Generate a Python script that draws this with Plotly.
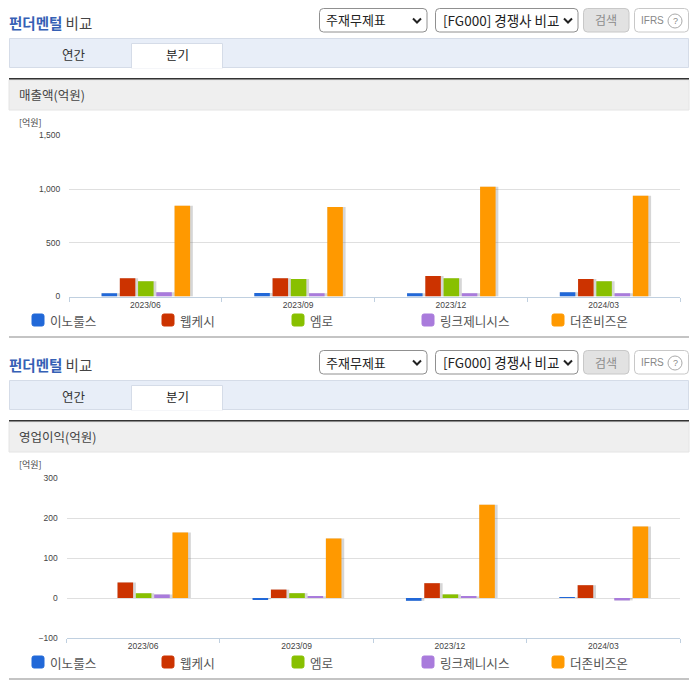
import plotly.graph_objects as go

periods = ["2023/06", "2023/09", "2023/12", "2024/03"]
companies = ["이노룰스", "웹케시", "엠로", "링크제니시스", "더존비즈온"]
colors = ["#2168d8", "#cc3300", "#88c000", "#a97bdc", "#ff9900"]

sales = {
    "이노룰스": [31, 33, 31, 40],
    "웹케시": [171, 171, 190, 162],
    "엠로": [143, 162, 171, 143],
    "링크제니시스": [40, 31, 31, 31],
    "더존비즈온": [845, 835, 1022, 938],
}
profit = {
    "이노룰스": [0, -3, -7, 2],
    "웹케시": [39, 21, 37, 32],
    "엠로": [12, 12, 9, 0],
    "링크제니시스": [9, 4, 4, -6],
    "더존비즈온": [164, 149, 233, 179],
}

W, H = 696, 684
KR = "Noto Sans CJK KR"
LAT = "Liberation Sans"


def px(x):
    return x / W


def py(y):
    return 1 - y / H


fig = go.Figure()
shapes, notes = [], []

STEP, BAR = 0.1195, 0.1015
SHADOW = 0.018


def add_bars(data, xaxis, yaxis):
    for i, name in enumerate(companies):
        off = (i - 2.5) * STEP + (STEP - BAR) / 2 + 0.003
        fig.add_bar(x=periods, y=data[name], name=name, xaxis=xaxis, yaxis=yaxis,
                    width=BAR + SHADOW, offset=off,
                    marker=dict(color="rgba(120,120,120,0.30)", line_width=0),
                    showlegend=False, hoverinfo="skip")
        fig.add_bar(x=periods, y=data[name], name=name, xaxis=xaxis, yaxis=yaxis,
                    width=BAR, offset=off,
                    marker=dict(color=colors[i], line_width=0), showlegend=False)


add_bars(sales, "x", "y")
add_bars(profit, "x2", "y2")


def rect(x0, y0, x1, y1, fill, line=None, lw=1):
    shapes.append(dict(type="rect", xref="paper", yref="paper",
                       x0=px(x0), x1=px(x1), y0=py(y0), y1=py(y1), fillcolor=fill,
                       line=dict(color=line or fill, width=lw if line else 0), layer="below"))


def rrect(x0, y0, x1, y1, fill, line, r=4):
    def X(v):
        return px(v)

    def Y(v):
        return py(v)

    d = (f"M{X(x0+r)},{Y(y0)} L{X(x1-r)},{Y(y0)} Q{X(x1)},{Y(y0)} {X(x1)},{Y(y0+r)} "
         f"L{X(x1)},{Y(y1-r)} Q{X(x1)},{Y(y1)} {X(x1-r)},{Y(y1)} L{X(x0+r)},{Y(y1)} "
         f"Q{X(x0)},{Y(y1)} {X(x0)},{Y(y1-r)} L{X(x0)},{Y(y0+r)} Q{X(x0)},{Y(y0)} {X(x0+r)},{Y(y0)} Z")
    shapes.append(dict(type="path", xref="paper", yref="paper", path=d, fillcolor=fill,
                       line=dict(color=line, width=1), layer="below"))


def chevron(cx, cy):
    d = (f"M{px(cx-4)},{py(cy-2)} L{px(cx)},{py(cy+2)} L{px(cx+4)},{py(cy-2)}")
    shapes.append(dict(type="path", xref="paper", yref="paper", path=d,
                       line=dict(color="#222222", width=2), layer="above"))


def text(x, y, s, size=12, color="#333333", family=KR, anchor="left"):
    notes.append(dict(xref="paper", yref="paper", x=px(x), y=py(y), text=s, showarrow=False,
                      xanchor=anchor, yanchor="middle", align=anchor, borderpad=0, borderwidth=0,
                      font=dict(size=size, color=color, family=family)))


def panel(dy, heading):
    text(9, 22 + dy, '<span style="color:#3560b5"><b>펀더멘털</b></span> 비교', 14.5, "#444444")
    rrect(319.5, 8.5 + dy, 427, 32 + dy, "#ffffff", "#909090")
    text(326, 20 + dy, "주재무제표", 13, "#222222")
    chevron(417, 20.5 + dy)
    rrect(435.5, 8.5 + dy, 578, 32 + dy, "#ffffff", "#909090")
    text(443, 20 + dy, "[FG000] 경쟁사 비교", 13.5, "#222222")
    chevron(568, 20.5 + dy)
    rrect(583.5, 8.5 + dy, 629, 32 + dy, "#e2e2e2", "#c8c8c8")
    text(606, 20 + dy, "검색", 12, "#8c8c8c", anchor="center")
    rrect(634.5, 8.5 + dy, 688.5, 32 + dy, "#ffffff", "#c8c8c8")
    text(641, 20.5 + dy, "IFRS", 10, "#888888", LAT)
    shapes.append(dict(type="circle", xref="paper", yref="paper", x0=px(668), x1=px(682),
                       y0=py(14 + dy), y1=py(28 + dy), line=dict(color="#aaaaaa", width=1)))
    text(675, 21 + dy, "?", 9, "#888888", LAT, "center")
    rect(9.5, 38.5 + dy, 688.5, 67.5 + dy, "#e8eef8", "#d5dce8")
    rect(131.5, 43.5 + dy, 222.5, 68 + dy, "#ffffff", "#d5dce8")
    shapes.append(dict(type="line", xref="paper", yref="paper", x0=px(132), x1=px(222),
                       y0=py(67.5 + dy), y1=py(67.5 + dy), line=dict(color="#ffffff", width=2),
                       layer="below"))
    text(74, 54 + dy, "연간", 12.5, "#333333", anchor="center")
    text(177, 54.5 + dy, "분기", 12.5, "#222222", anchor="center")
    rect(9, 78 + dy, 689, 80 + dy, "#333333")
    rect(9, 80 + dy, 689, 110 + dy, "#efefef", "#e4e4e4")
    text(19, 95 + dy, heading, 12.5, "#444444")
    text(19, 122.5 + dy, "[억원]", 9, "#444444")
    for i, name in enumerate(companies):
        x = 32 + 130 * i
        rrect(x, 314 + dy, x + 12, 326 + dy, colors[i], colors[i], 2)
        text(x + 18, 320 + dy, name, 12.6, "#555555")
    rect(9, 336 + dy, 689, 338 + dy, "#c4c4c4")


panel(0, "매출액(억원)")
panel(342, "영업이익(억원)")


def xaxis(left, domain_anchor):
    return dict(domain=[px(left), px(680)], anchor=domain_anchor, type="category",
                categoryorder="array", categoryarray=periods, range=[-0.5, 3.5], automargin=False,
                tickson="boundaries", ticks="outside", ticklen=4, tickcolor="#c0d0e0",
                showline=True, linecolor="#c0d0e0", linewidth=1, showgrid=False,
                tickfont=dict(size=8.5, color="#444444", family=LAT), fixedrange=True)


def yaxis(top, bottom, rng, dtick, anchor):
    return dict(domain=[py(bottom), py(top)], anchor=anchor, range=rng, dtick=dtick, automargin=False,
                tickformat=",", ticks="outside", ticklen=6, tickcolor="rgba(0,0,0,0)",
                showgrid=True, gridcolor="#dfdfdf", gridwidth=1, showline=False, zeroline=False,
                tickfont=dict(size=8.5, color="#444444", family=LAT), fixedrange=True)


fig.update_layout(
    width=W, height=H, margin=dict(l=0, r=0, t=0, b=0), autosize=False,
    paper_bgcolor="#ffffff", plot_bgcolor="rgba(0,0,0,0)", barmode="overlay",
    shapes=shapes, annotations=notes, showlegend=False,
    xaxis=xaxis(69, "y"), yaxis=yaxis(135.5, 296.5, [0, 1500], 500, "x"),
    xaxis2=xaxis(66.5, "y2"), yaxis2=yaxis(478, 638, [-100, 300], 100, "x2"),
)

fig.write_html("out.html", config=dict(displayModeBar=False),
               post_script="document.body.style.margin='0';document.body.style.overflow='hidden';")
